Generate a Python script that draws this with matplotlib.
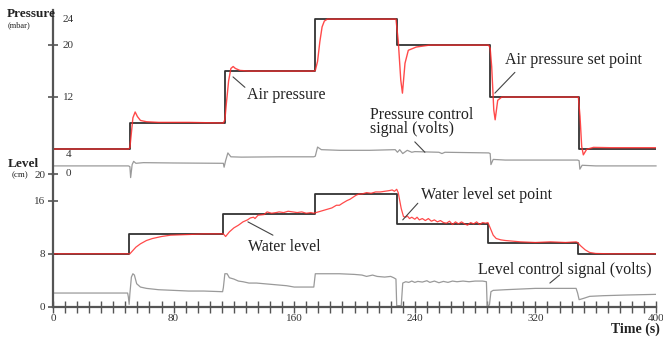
import numpy as np
import matplotlib
matplotlib.use("Agg")
import matplotlib.pyplot as plt
from matplotlib.ticker import MultipleLocator

# ---- data ----
# pressure set point (mbar), step changes
p_set_t = [0, 51, 114, 174, 228, 290, 349, 400]
p_set_v = [4, 8, 16, 24, 20, 12, 4, 4]

# measured air pressure (mbar)
p_t = [0, 20, 40, 50, 51, 52, 53, 54.5, 56, 58, 62, 70, 90, 113,
       114, 115, 116.5, 118, 119.5, 121, 124, 130, 150, 173,
       174, 175.5, 177, 178.5, 180, 182, 190, 210, 227.5,
       229, 230.7, 231.8, 233.5, 235.7, 241, 250, 270, 289,
       290, 291, 292.4, 293.3, 295, 297.7, 305, 330, 348.5,
       349.6, 350.7, 351.8, 354, 358.5, 370, 400]
p_v = [4, 4, 4, 4, 4.2, 6.5, 8.8, 9.7, 9.0, 8.4, 8.2, 8.1, 8.1, 8.0,
       8.5, 11.0, 14.5, 16.4, 16.7, 16.4, 16.1, 16.0, 16.0, 16.0,
       16.1, 17.5, 20.5, 22.8, 23.7, 24.0, 24.0, 24.0, 24.0,
       20.7, 14.6, 12.6, 17.2, 19.2, 19.7, 20.0, 20.0, 20.0,
       19.5, 16.7, 10.0, 8.5, 11.5, 12.0, 12.0, 12.0, 12.0,
       9.0, 4.4, 3.1, 3.95, 4.25, 4.2, 4.2]

# pressure control signal (plotted on pressure scale)
pc_t = [0, 50, 51, 51.5, 52.5, 53.5, 55, 60, 80, 113, 113.5, 114.5, 116, 118,
        125, 150, 173, 174, 175.5, 178, 190, 210, 227, 228.5, 230, 232, 235,
        238, 240, 256, 258, 260, 289, 290, 290.5, 292, 300, 348, 349, 349.5,
        351, 360, 400]
pc_v = [1.4, 1.4, 1.3, -0.4, 1.6, 2.1, 1.8, 1.9, 1.85, 1.8, 1.2, 2.2, 3.4, 2.8,
        2.75, 2.8, 2.8, 2.9, 4.3, 3.9, 3.8, 3.8, 3.9, 3.5, 3.9, 3.3, 3.8,
        3.5, 3.6, 3.5, 3.3, 3.5, 3.4, 3.3, 1.6, 2.4, 2.3, 2.3, 2.2, 0.9,
        1.5, 1.4, 1.4]

# water level set point (cm)
l_set_t = [0, 50.5, 113, 174, 228, 288.5, 348, 400]
l_set_v = [8, 11, 14, 17, 12.5, 9.6, 8, 8]

# measured water level (cm)
l_t = [0, 20, 40, 51, 53, 55, 58, 62, 66, 72, 78, 90, 100, 113,
       114.5, 117, 120, 123, 126, 129, 131, 133, 134, 136, 140, 142, 145,
       148, 150, 153, 156, 159, 162, 165, 168, 171, 173, 176, 179, 182,
       185, 188, 190, 192, 195, 197, 199, 201, 203, 205, 208, 211, 214,
       217, 220, 223, 225, 226.5, 228, 229, 230, 231, 232.5, 234, 235,
       236.5, 238, 240, 241.5, 243, 245, 247, 249, 251, 253, 255, 257,
       259, 261, 263, 265, 267, 269, 271, 273, 275, 277, 279, 281, 283,
       285, 287, 288.5, 290, 292, 294, 297, 300, 305, 310, 320, 330,
       340, 347, 348, 350, 353, 356, 360, 370, 400]
l_v = [8.0, 8.0, 8.0, 8.0, 8.5, 9.0, 9.5, 10.0, 10.3, 10.6, 10.8, 10.9, 11.0, 11.0,
       10.6, 11.3, 11.9, 12.3, 12.8, 13.1, 13.4, 13.5, 13.3, 13.8, 13.9, 14.3, 14.1,
       14.2, 14.3, 14.2, 14.4, 14.3, 14.2, 14.3, 14.1, 14.2, 14.1, 14.3, 14.5, 14.7,
       14.9, 15.3, 15.3, 15.6, 16.0, 16.2, 16.5, 16.8, 17.0, 17.0, 17.2, 17.1, 17.3,
       17.3, 17.4, 17.5, 17.6, 17.4, 17.7, 17.2, 16.0, 14.8, 13.6, 13.5, 13.7,
       13.3, 13.5, 13.2, 13.5, 13.1, 13.3, 13.0, 13.3, 12.9, 13.1, 12.8, 13.0,
       12.7, 12.6, 12.9, 12.4, 12.8, 12.5, 12.8, 12.5, 12.3, 12.7, 12.5, 12.8, 12.4,
       12.7, 12.6, 12.7, 11.9, 10.8, 10.3, 10.1, 10.0, 9.9, 9.8, 9.7, 9.8,
       9.7, 9.8, 9.7, 9.2, 8.6, 8.2, 8.05, 8.0, 8.0]

# level control signal (plotted on level scale)
lc_t = [0, 49.5, 50, 50.5, 51, 52, 53, 54, 55.5, 58, 62, 70, 80, 90, 100, 112.5,
        113, 114, 115.5, 117, 120, 123, 126, 130, 135, 140, 145, 150, 155, 160,
        165, 170, 173, 174, 180, 190, 200, 205, 208, 212, 215, 220, 224, 226,
        227.5, 228, 231, 232, 234, 236, 238, 240, 242, 245, 248, 250, 253, 256,
        259, 262, 265, 268, 272, 276, 280, 285, 287.5, 288, 289.5, 290.5, 292,
        300, 310, 320, 330, 340, 347, 348, 349, 352, 356, 365, 380, 400]
lc_v = [2.1, 2.1, 1.5, 0.4, 2.0, 4.5, 5.0, 4.8, 3.5, 3.0, 2.8, 2.6, 2.5, 2.4, 2.4, 2.3,
        2.9, 5.0, 5.0, 4.4, 4.2, 3.9, 3.8, 3.6, 3.6, 3.5, 3.4, 3.3, 3.2, 3.0,
        3.0, 3.0, 3.0, 5.0, 5.0, 5.0, 4.9, 4.8, 4.6, 4.8, 4.6, 4.5, 4.6, 4.4,
        4.2, 0.2, 0.2, 3.6, 3.8, 3.7, 3.9, 3.7, 3.85, 3.75, 3.95, 3.7, 3.9, 3.65,
        3.85, 3.7, 3.9, 3.8, 3.9, 3.8, 3.9, 3.9, 3.8, 0.2, 0.3, 2.3, 2.5,
        2.6, 2.7, 2.8, 2.8, 2.8, 2.8, 2.1, 1.1, 1.3, 1.6, 1.7, 1.8, 1.9]

# ---- styling ----
plt.rcParams['font.family'] = ['Liberation Serif', 'DejaVu Serif']
AX_C = '#555555'
RED = '#ff2a2a'
BLK = '#333333'
GRY = '#9a9a9a'

fig = plt.figure(figsize=(6.63, 3.38), dpi=100)
x0, w = 53 / 663, (656 - 53) / 663
ax_lv = fig.add_axes([x0, (338 - 307) / 338, w, (307 - 174) / 338])
ax_pr = fig.add_axes([x0, (338 - 175) / 338, w, (175 - 10) / 338], sharex=ax_lv)

# top panel: pressure
ax_pr.plot(pc_t, pc_v, color=GRY, lw=0.9, clip_on=False)
ax_pr.plot(p_set_t, p_set_v, color=BLK, lw=1.3, drawstyle='steps-post')
ax_pr.plot(p_t, p_v, color=RED, lw=1.0, alpha=0.85)
ax_pr.set_ylim(0, 25.4)

# bottom panel: level
ax_lv.plot(lc_t, lc_v, color=GRY, lw=0.9)
ax_lv.plot(l_set_t, l_set_v, color=BLK, lw=1.3, drawstyle='steps-post')
ax_lv.plot(l_t, l_v, color=RED, lw=0.9, alpha=0.85)
ax_lv.set_ylim(0, 20)
ax_lv.set_xlim(0, 400)

for ax in (ax_pr, ax_lv):
    ax.patch.set_alpha(0)
    for s in ('top', 'right'):
        ax.spines[s].set_visible(False)
    ax.spines['left'].set_color(AX_C)
    ax.spines['left'].set_linewidth(1.6)
ax_pr.spines['bottom'].set_visible(False)
ax_lv.spines['bottom'].set_color(AX_C)
ax_lv.spines['bottom'].set_linewidth(1.6)

# pressure ticks, labels to the right of the axis
ax_pr.set_yticks([20, 12])
ax_pr.tick_params(axis='y', direction='inout', length=7, width=1.2, color=AX_C,
                  labelleft=False)
ax_pr.tick_params(axis='x', which='both', bottom=False, labelbottom=False)
for val, lab in [(24, '24'), (20, '20'), (12, '12'), (3.2, '4'), (0.3, '0')]:
    ax_pr.text(10, val, lab, fontsize=8, ha='center', va='center', color='#333333')

# level ticks
ax_lv.set_yticks([0, 8, 16, 20])
ax_lv.tick_params(axis='y', direction='inout', length=7, width=1.2, color=AX_C,
                  labelsize=8, labelcolor='#333333', pad=2)
ax_lv.xaxis.set_major_locator(MultipleLocator(80))
ax_lv.xaxis.set_minor_locator(MultipleLocator(8))
ax_lv.tick_params(axis='x', which='both', direction='inout', length=8, width=1.0,
                  color=AX_C, labelsize=8, labelcolor='#333333', pad=1)

# axis titles
fig.text(7 / 663, 1 - 14 / 338, 'Pressure', fontsize=9.5, fontweight='bold',
         va='center', color='#222222')
fig.text(8 / 663, 1 - 25 / 338, '(mbar)', fontsize=6, va='center', color='#222222')
fig.text(8 / 663, 1 - 164 / 338, 'Level', fontsize=9.5, fontweight='bold',
         va='center', color='#222222')
fig.text(12 / 663, 1 - 175 / 338, '(cm)', fontsize=6.5, va='center', color='#222222')
fig.text(660 / 663, 1 - 329 / 338, 'Time (s)', fontsize=10, fontweight='bold',
         ha='right', va='center', color='#222222')

# annotations: text and separate leader lines
ann = dict(fontsize=11.5, color='#222222', va='center', ha='left')
ln = dict(arrowstyle='-', color='#444444', lw=0.8, shrinkA=0, shrinkB=0)


def label(ax, text, pos, a, b, **kw):
    ax.text(pos[0], pos[1], text, **ann, **kw)
    ax.annotate('', xy=a, xytext=b, arrowprops=ln)


label(ax_pr, 'Air pressure', (129, 12.3), (119.4, 15.1), (127.3, 13.5))
label(ax_pr, 'Air pressure set point', (299.7, 17.7), (293.1, 12.6), (306.4, 15.8))
label(ax_pr, 'Pressure control\nsignal (volts)', (210, 8.2), (246.7, 3.5), (240, 5.1),
      linespacing=0.85)
label(ax_lv, 'Water level set point', (244, 16.8), (232, 13.1), (242, 15.6))
label(ax_lv, 'Water level', (129.3, 9.0), (145.9, 10.8), (129.3, 12.8))
label(ax_lv, 'Level control signal (volts)', (281.8, 5.6), (329.6, 3.6), (336, 4.8))

fig.savefig('out.png', dpi=100)
